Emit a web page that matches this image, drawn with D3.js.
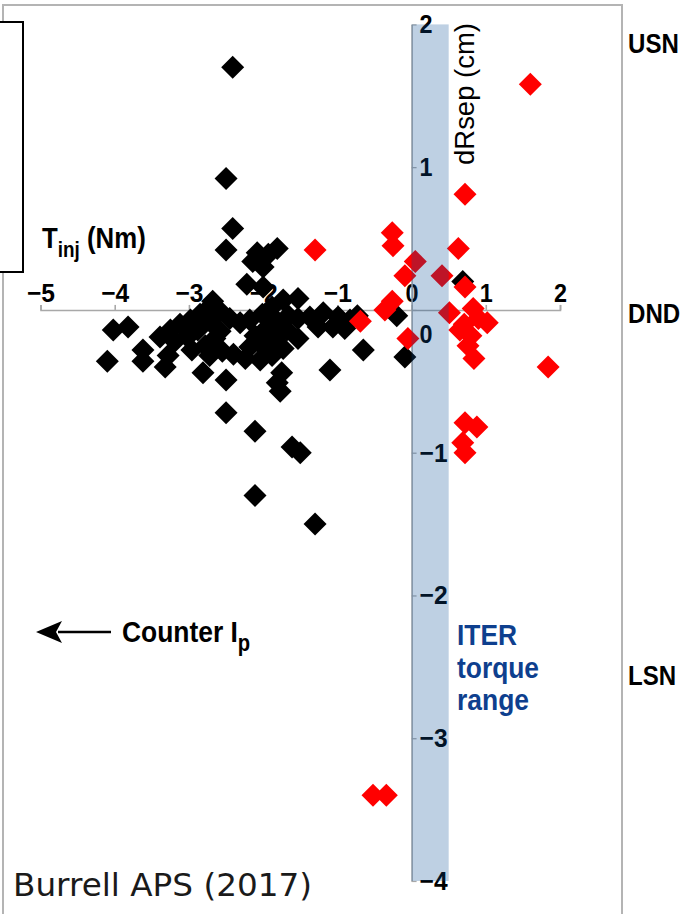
<!DOCTYPE html>
<html>
<head>
<meta charset="utf-8">
<script src="https://cdn.jsdelivr.net/npm/d3@7"></script>
<style>
  html, body { margin: 0; padding: 0; background: #fff; }
  svg { display: block; }
</style>
</head>
<body>
<script>
// Injected torque (Nm) and separatrix offset dRsep (cm) for each discharge
const darkTorque = [-2.41, -2.50, -2.41, -2.50, -2.08, -1.81, -2.14, -2.00, -1.93, -2.22,
  -2.00, -1.53, -2.68, -4.02, -3.82, -4.10, -3.62, -3.62, -3.32, -2.81,
  -2.50, -2.50, -2.11, -1.61, -1.50, -2.11, -1.30, -1.81, -1.75, -1.77,
  -1.10, -0.65, -0.09, -0.20, 0.69, -2.31, -3.39, -3.25, -3.12, -2.98,
  -2.85, -2.74, -3.19, -3.02, -2.88, -2.72, -2.58, -2.96, -2.78, -2.65,
  -2.58, -2.45, -2.72, -2.55, -2.40, -3.28, -2.24, -2.18, -2.01, -1.88,
  -1.73, -2.11, -1.96, -1.81, -1.66, -2.18, -2.01, -1.84, -1.68, -2.04,
  -1.88, -1.73, -1.53, -1.53, -1.37, -1.19, -0.99, -0.83, -0.73, -1.26,
  -1.06, -0.90];
const darkDRsep = [1.70, 0.92, 0.57, 0.42, 0.40, 0.43, 0.34, 0.30, 0.39, 0.18,
  0.16, 0.08, 0.06, -0.14, -0.12, -0.36, -0.28, -0.36, -0.40, -0.44,
  -0.49, -0.72, -0.85, -0.96, -1.00, -1.30, -1.50, -0.51, -0.44, -0.57,
  -0.42, -0.28, -0.33, -0.04, 0.20, -0.09, -0.19, -0.14, -0.10, -0.07,
  -0.03, 0.01, -0.22, -0.19, -0.14, -0.08, -0.01, -0.28, -0.25, -0.20,
  -0.15, -0.06, -0.32, -0.29, -0.31, -0.32, -0.34, -0.07, -0.03, 0.02,
  0.07, -0.18, -0.13, -0.08, -0.04, -0.26, -0.25, -0.20, -0.14, -0.35,
  -0.32, -0.27, -0.20, -0.06, -0.05, -0.02, -0.05, -0.07, -0.04, -0.12,
  -0.12, -0.13];

const redTorque = [1.60, 0.72, 0.63, -0.26, -0.25, -1.30, 0.05, -0.09, 0.41, 0.72,
  -0.26, -0.36, -0.69, -0.05, 0.51, 0.83, 1.02, 0.71, 0.80, 0.76,
  0.84, 1.84, 0.72, 0.88, 0.69, 0.72, -0.52, -0.34, 0.90, 0.65];
const redDRsep = [1.58, 0.81, 0.43, 0.54, 0.45, 0.42, 0.34, 0.24, 0.24, 0.16,
  0.06, 0.00, -0.08, -0.20, -0.02, 0.01, -0.09, -0.10, -0.18, -0.25,
  -0.34, -0.40, -0.79, -0.82, -0.93, -1.00, -3.40, -3.40, -0.06, -0.14];

const xTicks = [-5, -4, -3, -2, -1, 0, 1, 2];
const yTicks = [2, 1, 0, -1, -2, -3, -4];
const iterRange = [0, 0.5];
const configLabels = [["USN", 53], ["DND", 323], ["LSN", 685]];
const iterLines = ["ITER", "torque", "range"];

const W = 683, H = 914;
const sans = "'Liberation Sans',Arial,'DejaVu Sans',sans-serif";
const axisGrey = "#a8a8a8";

const svg = d3.select("body").append("svg")
  .attr("width", W).attr("height", H)
  .attr("viewBox", `0 0 ${W} ${H}`);

// Outer panel frame
svg.append("rect")
  .attr("x", 3).attr("y", 5).attr("width", 619).attr("height", 1000)
  .attr("fill", "none").attr("stroke", "#b4b4b4").attr("stroke-width", 2);

// Box at the top left edge
svg.append("rect")
  .attr("x", -60).attr("y", 22).attr("width", 83).attr("height", 250)
  .attr("fill", "#fff").attr("stroke", "#000").attr("stroke-width", 2);

const x = d3.scaleLinear().domain([-5, 2]).range([40.5, 560]);
const y = d3.scaleLinear().domain([-4, 2]).range([881, 24.4]);

// Condensed bold numerals: squeeze each label to a narrow width
const labelWidth = d => (d < 0 ? 28 : 13);

// Horizontal torque axis crossing at dRsep = 0
const gx = svg.append("g")
  .attr("transform", `translate(0,${y(0)})`)
  .call(d3.axisTop(x).tickValues(xTicks).tickSize(5).tickPadding(3)
    .tickFormat(d3.format("d")));
gx.attr("font-family", sans).attr("font-size", 26).attr("font-weight", "bold");
gx.select(".domain").attr("stroke", axisGrey).attr("stroke-width", 1.6);
gx.selectAll(".tick line").attr("stroke", axisGrey).attr("stroke-width", 1.6);
gx.selectAll(".tick text").attr("fill", "#000")
  .attr("textLength", labelWidth).attr("lengthAdjust", "spacingAndGlyphs");

// Vertical dRsep axis crossing at zero torque
const gy = svg.append("g")
  .attr("transform", `translate(${x(0)},0)`)
  .call(d3.axisRight(y).tickValues(yTicks).tickSizeInner(5).tickSizeOuter(0)
    .tickPadding(3).tickFormat(d3.format("d")));
gy.attr("font-family", sans).attr("font-size", 26).attr("font-weight", "bold");
gy.select(".domain").attr("stroke", axisGrey).attr("stroke-width", 1.6);
gy.selectAll(".tick line").attr("stroke", axisGrey).attr("stroke-width", 1.2);
gy.selectAll(".tick text").attr("fill", "#000")
  .attr("textLength", labelWidth).attr("lengthAdjust", "spacingAndGlyphs")
  .filter(d => d === 0).attr("dy", "1.25em");

// Diamond marker
const diamondShape = {
  draw(ctx, size) {
    const r = Math.sqrt(size / 2);
    ctx.moveTo(0, -r); ctx.lineTo(r, 0); ctx.lineTo(0, r); ctx.lineTo(-r, 0); ctx.closePath();
  }
};
const diamond = d3.symbol(diamondShape, 2 * 11.5 * 11.5);

svg.append("g").attr("fill", "#000")
  .selectAll("path").data(d3.zip(darkTorque, darkDRsep)).join("path")
  .attr("transform", d => `translate(${x(d[0])},${y(d[1])})`)
  .attr("d", diamond);

svg.append("g").attr("fill", "#ff0000")
  .selectAll("path").data(d3.zip(redTorque, redDRsep)).join("path")
  .attr("transform", d => `translate(${x(d[0])},${y(d[1])})`)
  .attr("d", diamond);

// ITER torque range band, translucent over the data
svg.append("rect")
  .attr("x", x(iterRange[0])).attr("width", x(iterRange[1]) - x(iterRange[0]))
  .attr("y", y(2)).attr("height", y(-4) - y(2))
  .attr("fill", "rgb(8,76,148)").attr("fill-opacity", 0.263);

// Axis titles
const tinj = svg.append("text")
  .attr("transform", "translate(42,248) scale(0.86,1)")
  .attr("font-family", sans).attr("font-weight", "bold").attr("font-size", 30).attr("fill", "#000");
tinj.append("tspan").text("T");
tinj.append("tspan").attr("dy", 9).attr("font-size", 22).text("inj");
tinj.append("tspan").attr("dy", -9).text(" (Nm)");

svg.append("text")
  .attr("transform", "translate(474,165) rotate(-90)")
  .attr("font-family", sans).attr("font-size", 27).attr("fill", "#000")
  .attr("textLength", 142).attr("lengthAdjust", "spacingAndGlyphs")
  .text("dRsep (cm)");

// Magnetic configuration labels at the right edge
svg.append("g").attr("font-family", sans).attr("font-weight", "bold").attr("font-size", 28)
  .selectAll("text").data(configLabels).join("text")
  .attr("transform", d => `translate(628,${d[1]}) scale(0.86,1)`)
  .text(d => d[0]);

// ITER torque range annotation
svg.append("g").attr("font-family", sans).attr("font-weight", "bold").attr("font-size", 30)
  .attr("fill", "#0e3f8e")
  .selectAll("text").data(iterLines).join("text")
  .attr("x", 457).attr("y", (d, i) => 645 + i * 32.5)
  .attr("textLength", (d, i) => [60, 82, 72][i]).attr("lengthAdjust", "spacingAndGlyphs")
  .text(d => d);

// Counter-Ip direction arrow
svg.append("line").attr("x1", 58).attr("x2", 111).attr("y1", 632).attr("y2", 632)
  .attr("stroke", "#000").attr("stroke-width", 2.6);
svg.append("path").attr("d", "M36,632 L62,621 L56,632 L62,643 Z").attr("fill", "#000");
const ctr = svg.append("text")
  .attr("transform", "translate(122,642) scale(0.88,1)")
  .attr("font-family", sans).attr("font-weight", "bold").attr("font-size", 30).attr("fill", "#000");
ctr.append("tspan").text("Counter I");
ctr.append("tspan").attr("dy", 9).attr("font-size", 23).text("p");

// Citation
svg.append("text").attr("x", 13).attr("y", 896)
  .attr("font-family", "'DejaVu Sans','Open Sans',sans-serif").attr("font-size", 32)
  .attr("fill", "#1a1a1a")
  .attr("textLength", 299).attr("lengthAdjust", "spacingAndGlyphs")
  .text("Burrell APS (2017)");
</script>
</body>
</html>
